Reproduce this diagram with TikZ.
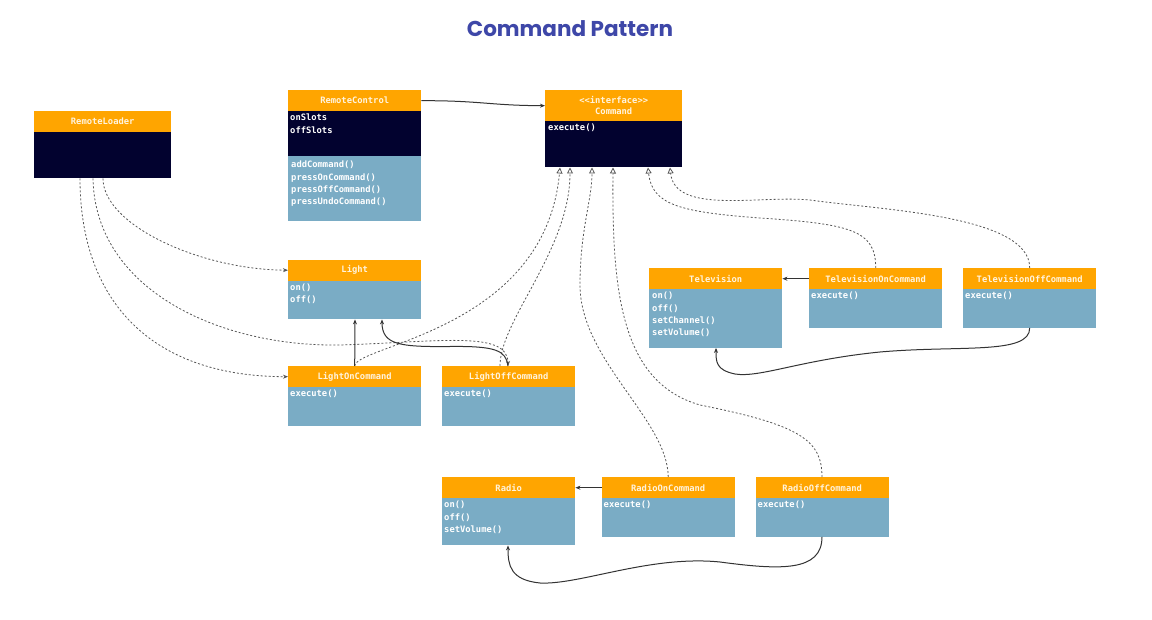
\documentclass[tikz,border=0pt]{standalone}
\usepackage{fontspec}
\usetikzlibrary{arrows.meta}
\newfontfamily\monof{DejaVu Sans Mono}
\newfontfamily\titlef{Poppins}
\definecolor{orng}{HTML}{FFA500}
\definecolor{navy}{HTML}{02022F}
\definecolor{blu}{HTML}{7AACC5}
\definecolor{ttl}{HTML}{3E47A8}
\definecolor{hdrtxt}{HTML}{FFF4DE}
\definecolor{lnc}{HTML}{555555}
\definecolor{lns}{HTML}{333333}
\begin{document}
\begin{tikzpicture}[x=1pt,y=-1pt,
  hdr/.style={fill=orng, text=hdrtxt, anchor=north west, inner sep=0pt, minimum width=133pt, minimum height=21pt, align=center, font=\monof\bfseries\fontsize{8.8}{11}\selectfont},
  dk/.style={fill=navy, anchor=north west, inner sep=0pt, minimum width=133pt},
  lt/.style={fill=blu, anchor=north west, inner sep=0pt, minimum width=133pt},
  btxt/.style={anchor=north west, inner sep=0pt, align=left, text=white, font=\monof\bfseries\fontsize{8.8}{12.3}\selectfont},
  dep/.style={draw=lnc, line width=0.8pt, dash pattern=on 2pt off 2pt, -{Stealth[length=5pt,width=4pt]}},
  real/.style={draw=lnc, line width=0.8pt, dash pattern=on 2pt off 2pt, -{Triangle[open,length=6pt,width=6pt]}},
  assoc/.style={draw=lns, line width=1pt, solid, -{Stealth[length=5pt,width=4pt]}}
]
\useasboundingbox (0,0) rectangle (1152,620);
\fill[white] (0,0) rectangle (1152,620);

\node[font=\titlef\bfseries\fontsize{21.5}{25}\selectfont, text=ttl] (title) at (570,29) {Command Pattern};

% RemoteLoader
\node[hdr, minimum width=137pt] (rlH) at (34,111) {RemoteLoader};
\node[dk, minimum width=137pt, minimum height=46pt] (rlB) at (34,132) {};

% RemoteControl
\node[hdr] (rcH) at (288,90) {RemoteControl};
\node[dk, minimum height=45pt] (rcA) at (288,111) {};
\node[lt, minimum height=64.5pt] (rcM) at (288,156) {};
\node[btxt] (rcAt) at ([xshift=2pt,yshift=-3pt]rcA.north west) {onSlots\\offSlots};
\node[btxt] (rcMt) at ([xshift=3pt,yshift=-5pt]rcM.north west) {addCommand()\\pressOnCommand()\\pressOffCommand()\\pressUndoCommand()};

% Command
\node[hdr, minimum width=137pt, minimum height=31pt] (cmdH) at (545,90) {{<}{<}interface{>}{>}\\Command};
\node[dk, minimum width=137pt, minimum height=46pt] (cmdB) at (545,121) {};
\node[btxt] (cmdT) at ([xshift=3pt,yshift=-3pt]cmdB.north west) {execute()};

% Light
\node[hdr] (lightH) at (288,259.5) {Light};
\node[lt, minimum height=38.5pt] (lightB) at (288,280.5) {};
\node[btxt] (lightT) at ([xshift=2pt,yshift=-3pt]lightB.north west) {on()\\off()};

% LightOnCommand
\node[hdr] (lonH) at (288,366) {LightOnCommand};
\node[lt, minimum height=38.5pt] (lonB) at (288,387) {};
\node[btxt] (lonT) at ([xshift=2pt,yshift=-3pt]lonB.north west) {execute()};

% LightOffCommand
\node[hdr] (lofH) at (442,366) {LightOffCommand};
\node[lt, minimum height=38.5pt] (lofB) at (442,387) {};
\node[btxt] (lofT) at ([xshift=2pt,yshift=-3pt]lofB.north west) {execute()};

% Television
\node[hdr] (tvH) at (649,268) {Television};
\node[lt, minimum height=58.5pt] (tvB) at (649,289) {};
\node[btxt] (tvT) at ([xshift=3pt,yshift=-3pt]tvB.north west) {on()\\off()\\setChannel()\\setVolume()};

% TelevisionOnCommand
\node[hdr] (tonH) at (809,268) {TelevisionOnCommand};
\node[lt, minimum height=38.5pt] (tonB) at (809,289) {};
\node[btxt] (tonT) at ([xshift=2pt,yshift=-3pt]tonB.north west) {execute()};

% TelevisionOffCommand
\node[hdr] (tofH) at (963,268) {TelevisionOffCommand};
\node[lt, minimum height=38.5pt] (tofB) at (963,289) {};
\node[btxt] (tofT) at ([xshift=2pt,yshift=-3pt]tofB.north west) {execute()};

% Radio
\node[hdr] (rdH) at (442,477) {Radio};
\node[lt, minimum height=47pt] (rdB) at (442,498) {};
\node[btxt] (rdT) at ([xshift=2pt,yshift=-3pt]rdB.north west) {on()\\off()\\setVolume()};

% RadioOnCommand
\node[hdr] (ronH) at (601.5,477) {RadioOnCommand};
\node[lt, minimum height=38.5pt] (ronB) at (601.5,498) {};
\node[btxt] (ronT) at ([xshift=2pt,yshift=-3pt]ronB.north west) {execute()};

% RadioOffCommand
\node[hdr] (roffH) at (755.5,477) {RadioOffCommand};
\node[lt, minimum height=38.5pt] (roffB) at (755.5,498) {};
\node[btxt] (roffT) at ([xshift=2pt,yshift=-3pt]roffB.north west) {execute()};

% attachment points on Command
\coordinate (p1) at (560,167.5);
\coordinate (p2) at (570,167.5);
\coordinate (p3) at (592,167.5);
\coordinate (p4) at (613,167.5);
\coordinate (p5) at (648,167.5);
\coordinate (p6) at (670,167.5);

% association RemoteControl -> Command
\draw[assoc] (rcH.east) .. controls (480,100.5) and (490,105.5) .. (cmdH.west);

% RemoteLoader dependencies
\draw[dep] ([xshift=69pt]rlB.south west) .. controls (103,225) and (200,269.5) .. (lightH.west);
\draw[dep] ([xshift=46pt]rlB.south west) .. controls (80,300) and (150,376.5) .. (lonH.west);
\draw[dep] ([xshift=59pt]rlB.south west) .. controls (95,290) and (220,347) .. (340,345) .. controls (440,342) and (508,330) .. ([xshift=66pt]lofH.north west);

% realizations
\draw[real] (lonH.north) .. controls (356,345) and (545,330) .. (p1);
\draw[real] ([xshift=58pt]lofH.north west) .. controls (500,320) and (570,250) .. (p2);
\draw[real] (ronH.north) .. controls (668,420) and (580,360) .. (580,285) .. controls (580,230) and (592,200) .. (p3);
\draw[real] ([xshift=66.5pt]roffH.north west) .. controls (822,440) and (800,425) .. (700,405) .. controls (620,382) and (612,290) .. (p4);
\draw[real] (tonH.north) .. controls (876,230) and (850,224) .. (760,218) .. controls (680,212) and (652,205) .. (p5);
\draw[real] (tofH.north) .. controls (1030,215) and (880,210) .. (810,200) .. controls (760,195) and (675,215) .. (p6);

% associations commands -> receivers
\draw[assoc] (lonH.north) -- ([xshift=67pt]lightB.south west);
\draw[assoc] ([xshift=66pt]lofH.north west) .. controls (506,350) and (495,346) .. (450,346.5) .. controls (400,347) and (382,345) .. ([xshift=94pt]lightB.south west);
\draw[assoc] (tonH.west) -- (tvH.east);
\draw[assoc] (tofB.south) .. controls (1030,355) and (960,345) .. (880,352) .. controls (800,360) and (760,378) .. (735,374) .. controls (716,370) and (716,362) .. ([xshift=67pt]tvB.south west);
\draw[assoc] (ronH.west) -- (rdH.east);
\draw[assoc] ([xshift=66.5pt]roffB.south west) .. controls (822,572) and (780,570) .. (720,562) .. controls (650,555) and (580,585) .. (540,583) .. controls (510,580) and (508,565) .. ([xshift=66pt]rdB.south west);
\end{tikzpicture}
\end{document}
